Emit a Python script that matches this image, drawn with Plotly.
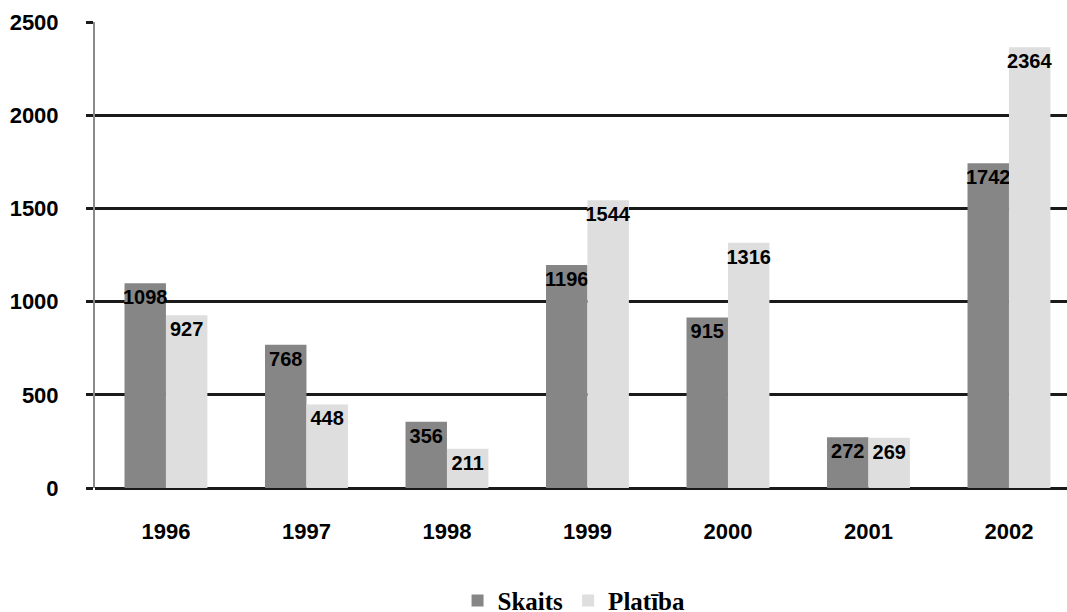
import plotly.graph_objects as go

years = ["1996", "1997", "1998", "1999", "2000", "2001", "2002"]
skaits = [1098, 768, 356, 1196, 915, 272, 1742]
platiba = [927, 448, 211, 1544, 1316, 269, 2364]
y_ticks = [0, 500, 1000, 1500, 2000, 2500]

label_font = dict(family="Liberation Sans, Arial", size=20, color="black")
tick_font = dict(family="Liberation Sans, Arial", size=22, color="black")

fig = go.Figure()
fig.add_trace(go.Bar(
    x=years, y=skaits, name="<b>Skaits</b>",
    marker=dict(color="#868686", line=dict(width=0)),
    text=["<b>%d</b>" % v for v in skaits], textposition="inside", insidetextanchor="end",
    textfont=label_font, textangle=0,
))
fig.add_trace(go.Bar(
    x=years, y=platiba, name="<b>Platība</b>",
    marker=dict(color="#DEDEDE", line=dict(width=0)),
    text=["<b>%d</b>" % v for v in platiba], textposition="inside", insidetextanchor="end",
    textfont=label_font, textangle=0,
))

fig.update_layout(
    width=1067, height=612,
    margin=dict(l=95, r=0, t=22, b=124, autoexpand=False),
    paper_bgcolor="white", plot_bgcolor="white",
    barmode="group", bargap=0.41, bargroupgap=0,
    uniformtext=dict(minsize=20, mode="show"),
    showlegend=True,
    legend=dict(
        orientation="h", xref="container", x=0.538, xanchor="center",
        yref="paper", y=-0.242, yanchor="middle",
        font=dict(family="Liberation Serif, Times New Roman", size=25, color="black"),
        itemwidth=30, traceorder="normal",
    ),
    font=dict(family="Liberation Sans, Arial", color="black"),
)
fig.update_xaxes(
    type="category", range=[-0.505, 6.413], automargin=False,
    showgrid=False, showline=False, ticks="",
    tickfont=tick_font,
    tickvals=years, ticktext=["<b>%s</b>" % y for y in years],
    ticklabelstandoff=28,
)
fig.update_yaxes(
    range=[0, 2500], tickvals=y_ticks, ticktext=["<b>%d</b>" % t for t in y_ticks],
    automargin=False,
    showgrid=True, gridcolor="#1a1a1a", gridwidth=3,
    zeroline=True, zerolinecolor="#1a1a1a", zerolinewidth=3,
    showline=True, linecolor="#8a8a8a", linewidth=2,
    ticks="outside", ticklen=7, tickcolor="#1a1a1a", tickwidth=3,
    tickfont=tick_font,
    ticklabelstandoff=23,
)
fig.write_html(
    "out.html",
    config={"displayModeBar": False},
    post_script="document.body.style.margin='0';document.body.style.overflow='hidden';",
)
